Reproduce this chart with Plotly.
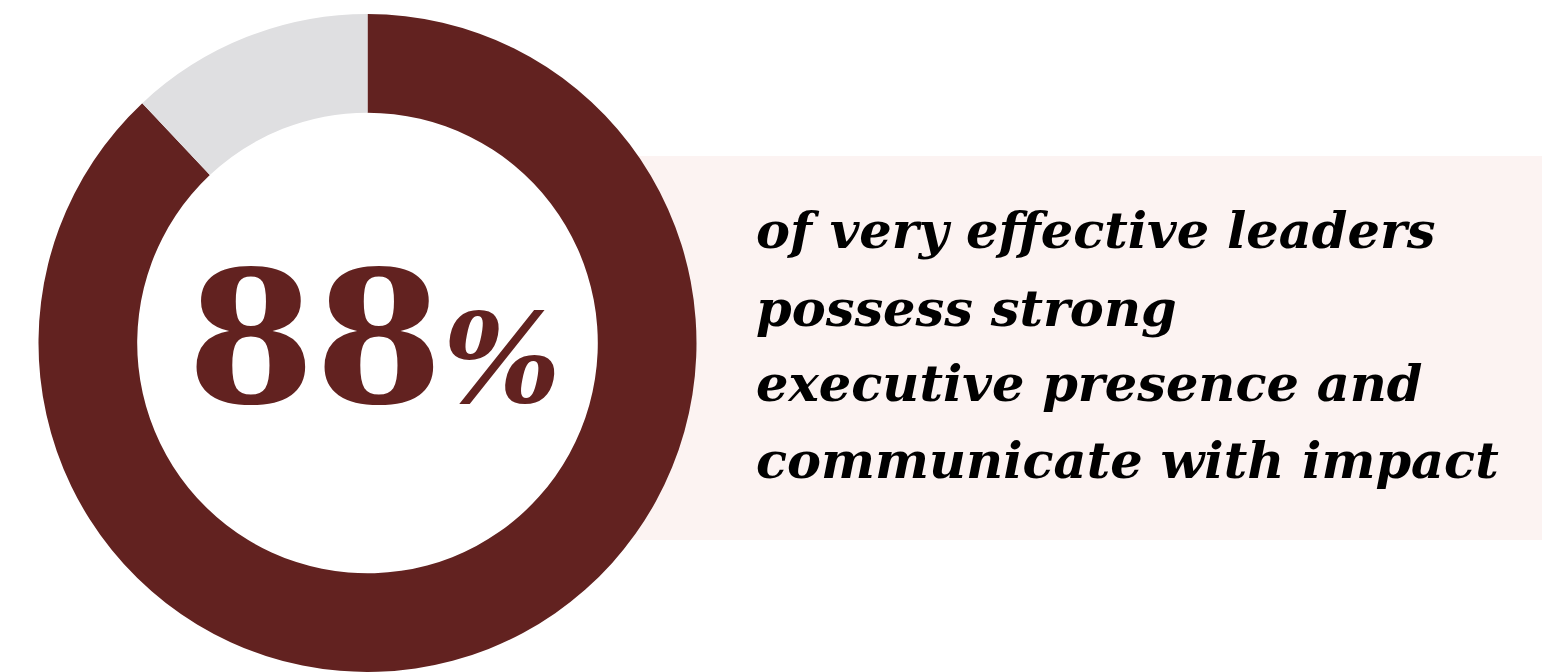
import plotly.graph_objects as go

# Share of very effective leaders with strong executive presence
segments = ["Strong presence", "Other"]
shares = [88, 12]
segment_colors = ["#622220", "#dfdfe1"]

headline_value = "88"
statement_lines = [
    "of very effective leaders",
    "possess strong",
    "executive presence and",
    "communicate with impact",
]

W, H = 1542, 672


def px_x(x):
    return x / W


def px_y(y):
    return 1 - y / H


fig = go.Figure()

fig.add_trace(
    go.Pie(
        labels=segments,
        values=shares,
        hole=0.70,
        sort=False,
        direction="clockwise",
        rotation=0,
        marker=dict(colors=segment_colors, line=dict(width=0)),
        textinfo="none",
        hoverinfo="label+percent",
        showlegend=False,
        domain=dict(x=[px_x(38), px_x(697)], y=[px_y(672), px_y(14)]),
    )
)

# Tinted panel behind the statement text
fig.add_shape(
    type="rect",
    xref="paper",
    yref="paper",
    x0=px_x(610),
    x1=1,
    y0=px_y(540),
    y1=px_y(156),
    fillcolor="#fcf3f2",
    line=dict(width=0),
    layer="below",
)

# Large figure in the centre of the ring
fig.add_annotation(
    x=px_x(374),
    y=px_y(337),
    xref="paper",
    yref="paper",
    xanchor="center",
    yanchor="middle",
    showarrow=False,
    text=headline_value + "<span style='font-size:124px'><i>%</i></span>",
    font=dict(family="DejaVu Serif", size=184, color="#622220", weight="bold"),
)

baselines = [250, 328, 403, 480]
for line, base in zip(statement_lines, baselines):
    fig.add_annotation(
        x=px_x(754),
        y=px_y(base - 20),
        xref="paper",
        yref="paper",
        xanchor="left",
        yanchor="middle",
        showarrow=False,
        text="<i>" + line + "</i>",
        font=dict(family="DejaVu Serif", size=51, color="#000000", weight="bold"),
    )

fig.update_layout(
    width=W,
    height=H,
    margin=dict(l=0, r=0, t=0, b=0),
    paper_bgcolor="#ffffff",
    plot_bgcolor="#ffffff",
)

fig.write_html("out.html")
